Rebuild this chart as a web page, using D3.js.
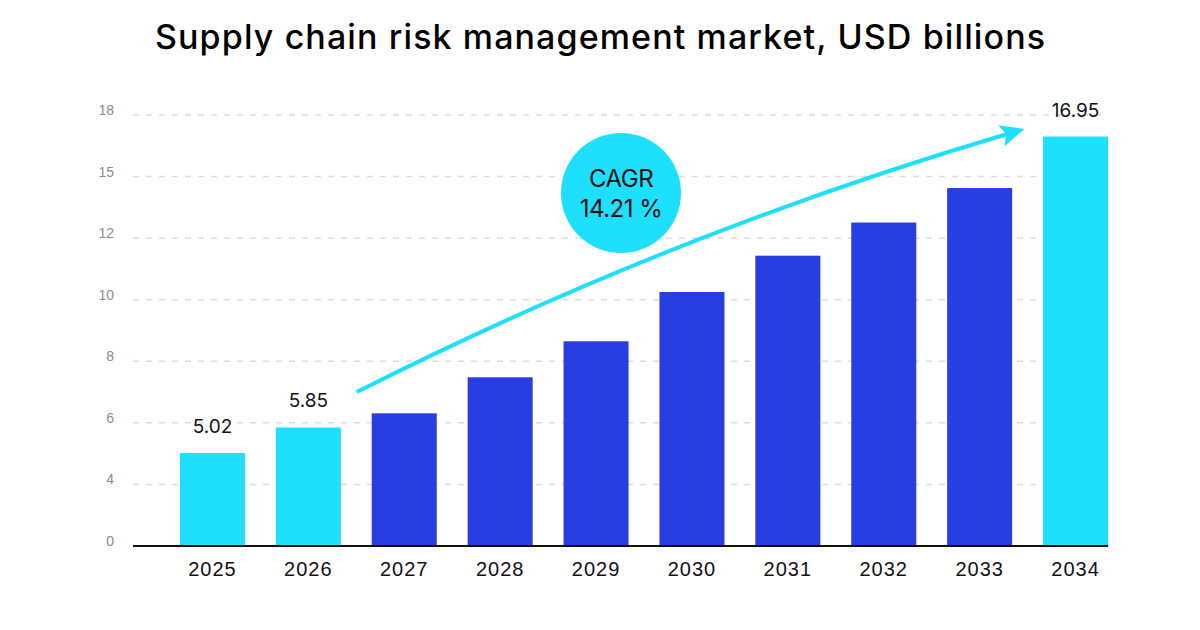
<!DOCTYPE html>
<html>
<head>
    <meta charset="UTF-8">
    <title>Supply chain risk management market</title>
    <style type="text/css">
        body {
            margin: 0;
            background-color: #ffffff;
            font-family: 'Inter', 'Liberation Sans', sans-serif;
        }

        .title {
            font-size: 34px;
            font-weight: 500;
        }

        .axis--y text {
            fill: #8a8a8a;
            font-size: 14px;
        }

        .axis--x text {
            fill: #111;
            font-size: 20px;
            letter-spacing: 1px;
        }

        .value-label {
            font-size: 19px;
        }
    </style>
</head>
<body>
    <script src="https://d3js.org/d3.v7.min.js"></script>
    <script type="text/javascript">
        // chart data
        const years = ['2025', '2026', '2027', '2028', '2029', '2030', '2031', '2032', '2033', '2034'];
        const values = [5.02, 5.85, 6.31, 7.48, 8.65, 10.25, 11.43, 12.76, 14.44, 16.95];
        const highlighted = ['2025', '2026', '2034'];   // bars drawn in light cyan, with a value label
        const yTicks = [0, 4, 6, 8, 10, 12, 15, 18];
        const cagrText = ['CAGR', '14.21 %'];

        const width = 1200,
              height = 630;

        const cyan = '#1ee0fe',
              blue = '#293ee2';

        const svg = d3.select('body').append('svg')
                      .attr('width', width)
                      .attr('height', height);

        // Title
        svg.append('text')
           .attr('class', 'title')
           .attr('x', width / 2)
           .attr('y', 49)
           .attr('text-anchor', 'middle')
           .attr('textLength', 890)
           .attr('lengthAdjust', 'spacing')
           .text('Supply chain risk management market, USD billions');

        // Scales: the y axis ticks are evenly spaced although their labels are not,
        // so the scale is a piecewise (polylinear) one built from the tick labels
        const plotTop = 115, plotBottom = 546;
        const step = (plotBottom - plotTop) / (yTicks.length - 1);
        const y = d3.scaleLinear()
                    .domain(yTicks)
                    .range(yTicks.map((d, i) => plotBottom - i * step));

        const x = d3.scaleBand()
                    .domain(years)
                    .range([164.5, 1123.5])
                    .paddingInner(0.322)
                    .paddingOuter(0.161);

        const gridLeft = 133, gridRight = 1108;

        // y axis: labels + dashed grid
        const yAxis = d3.axisLeft(y)
                        .tickValues(yTicks)
                        .tickSize(0)
                        .tickPadding(0);

        const yG = svg.append('g')
                      .attr('class', 'axis axis--y')
                      .attr('transform', `translate(114,0)`)
                      .call(yAxis);
        yG.select('.domain').remove();
        yG.selectAll('text').attr('dy', '-0.5px');

        svg.append('g')
           .attr('class', 'grid')
           .selectAll('line')
           .data(yTicks.filter(d => d > 0))
           .enter()
           .append('line')
           .attr('x1', gridLeft)
           .attr('x2', gridRight)
           .attr('y1', d => y(d))
           .attr('y2', d => y(d))
           .attr('stroke', '#dcdcdc')
           .attr('stroke-width', 1.5)
           .attr('stroke-dasharray', '6,7');

        // Bars
        const data = years.map((yr, i) => ({ year: yr, value: values[i] }));

        svg.selectAll('.bar')
           .data(data)
           .enter()
           .append('rect')
           .attr('class', 'bar')
           .attr('x', d => x(d.year))
           .attr('y', d => y(d.value))
           .attr('width', x.bandwidth())
           .attr('height', d => y(0) - y(d.value))
           .style('fill', d => highlighted.includes(d.year) ? cyan : blue);

        // baseline
        svg.append('line')
           .attr('x1', gridLeft)
           .attr('x2', gridRight)
           .attr('y1', y(0))
           .attr('y2', y(0))
           .attr('stroke', '#111')
           .attr('stroke-width', 2);

        // x axis labels
        const xAxis = d3.axisBottom(x).tickSize(0).tickPadding(0);
        const xG = svg.append('g')
                      .attr('class', 'axis axis--x')
                      .attr('transform', `translate(0,${y(0) + 16})`)
                      .call(xAxis);
        xG.select('.domain').remove();

        // value labels on highlighted bars
        svg.selectAll('.value-label')
           .data(data.filter(d => highlighted.includes(d.year)))
           .enter()
           .append('text')
           .attr('class', 'value-label')
           .attr('x', d => x(d.year) + x.bandwidth() / 2)
           .attr('y', d => y(d.value) - 20)
           .attr('text-anchor', 'middle')
           .attr('fill', '#111')
           .text(d => d.value.toFixed(2));

        // growth arrow
        svg.append('defs')
           .append('marker')
           .attr('id', 'arrowhead')
           .attr('markerUnits', 'userSpaceOnUse')
           .attr('viewBox', '0 0 24 24')
           .attr('refX', 8)
           .attr('refY', 12)
           .attr('markerWidth', 24)
           .attr('markerHeight', 24)
           .attr('orient', 'auto')
           .append('path')
           .attr('d', 'M0,1 L24,12 L0,23 L5,12 Z')
           .attr('fill', cyan);

        const start = [x('2027') - 15, y(7)],
              end = [x('2034') - 34, y(17.1)];
        const mid = [(start[0] + end[0]) / 2, (start[1] + end[1]) / 2];
        const len = Math.hypot(end[0] - start[0], end[1] - start[1]);
        const nx = (end[1] - start[1]) / len, ny = -(end[0] - start[0]) / len;
        const ctrl = [mid[0] + nx * 32, mid[1] + ny * 32];

        const arrowPath = d3.path();
        arrowPath.moveTo(start[0], start[1]);
        arrowPath.quadraticCurveTo(ctrl[0], ctrl[1], end[0], end[1]);

        svg.append('path')
           .attr('d', arrowPath.toString())
           .attr('fill', 'none')
           .attr('stroke', cyan)
           .attr('stroke-width', 4)
           .attr('marker-end', 'url(#arrowhead)');

        // CAGR bubble
        const bubble = svg.append('g')
                          .attr('transform', `translate(621,193)`);
        bubble.append('circle')
              .attr('r', 60)
              .style('fill', cyan);
        bubble.selectAll('text')
              .data(cagrText)
              .enter()
              .append('text')
              .attr('x', 0)
              .attr('y', (d, i) => i === 0 ? -6 : 24)
              .attr('text-anchor', 'middle')
              .attr('font-size', 24)
              .attr('letter-spacing', '-0.5px')
              .attr('fill', '#111')
              .text(d => d);
    </script>
</body>
</html>
